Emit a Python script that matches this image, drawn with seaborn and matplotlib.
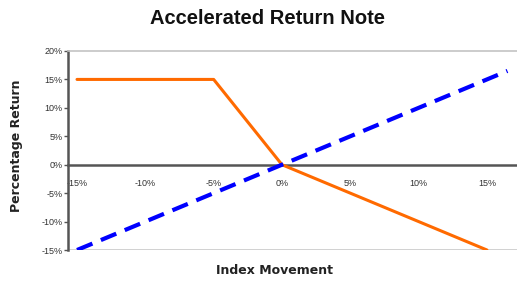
import numpy as np
import pandas as pd
import matplotlib
matplotlib.use('Agg')
import matplotlib.pyplot as plt
import seaborn as sns

# index movement (%) vs percentage return (%)
note_x = [-15, -5, 0, 15]
note_y = [15, 15, 0, -15]
index_x = [-15, 16.5]
index_y = [-15, 16.5]
x_ticks = [-15, -10, -5, 0, 5, 10, 15]
y_ticks = [-15, -10, -5, 0, 5, 10, 15, 20]

sns.set_style('white')
plt.rcParams['font.family'] = ['Liberation Sans', 'DejaVu Sans']

note = pd.DataFrame({'x': note_x, 'y': note_y})
index = pd.DataFrame({'x': index_x, 'y': index_y})

fig = plt.figure(figsize=(5.17, 2.84), dpi=100)
ax = fig.add_axes([68/517, 1-250/284, 1-68/517, (250-51)/284])

sns.lineplot(data=note, x='x', y='y', ax=ax, color='#ff6a00', lw=2.2, zorder=3)
sns.lineplot(data=index, x='x', y='y', ax=ax, color='#0000ff', lw=3,
             linestyle=(0, (4, 2.2)), zorder=4)

ax.set_xlim(-15.66, 17.2)
ax.set_ylim(-15, 20)
ax.set_xticks(x_ticks)
ax.set_yticks(y_ticks)
ax.set_xticklabels([f'{t}%' for t in x_ticks])
ax.set_yticklabels([f'{t}%' for t in y_ticks])
ax.set_xlabel('')
ax.set_ylabel('')

ax.spines['bottom'].set_position(('data', 0))
ax.spines['bottom'].set_color('#555555')
ax.spines['bottom'].set_linewidth(1.8)
ax.spines['left'].set_color('#555555')
ax.spines['left'].set_linewidth(1.8)
ax.spines['right'].set_visible(False)
ax.spines['top'].set_color('#c4c4c4')
ax.spines['top'].set_linewidth(1.2)
ax.axhline(-15, color='#c4c4c4', lw=1.8, zorder=1)

ax.tick_params(axis='x', length=0, pad=10, labelsize=6.5, labelcolor='#333333')
ax.tick_params(axis='y', length=3, width=1, color='#555555', pad=1,
               labelsize=6.5, labelcolor='#333333', left=True)

fig.text(268/517, 1-18/284, 'Accelerated Return Note', ha='center', va='center',
         fontsize=14.5, fontweight='bold', color='#111111')
fig.text(17/517, 1-146/284, 'Percentage Return', ha='center', va='center',
         rotation=90, fontsize=9, fontweight='bold', color='#222222',
         family='DejaVu Sans')
fig.text(275/517, 1-271/284, 'Index Movement', ha='center', va='center',
         fontsize=9, fontweight='bold', color='#222222', family='DejaVu Sans')

fig.savefig('out.png', dpi=100)
